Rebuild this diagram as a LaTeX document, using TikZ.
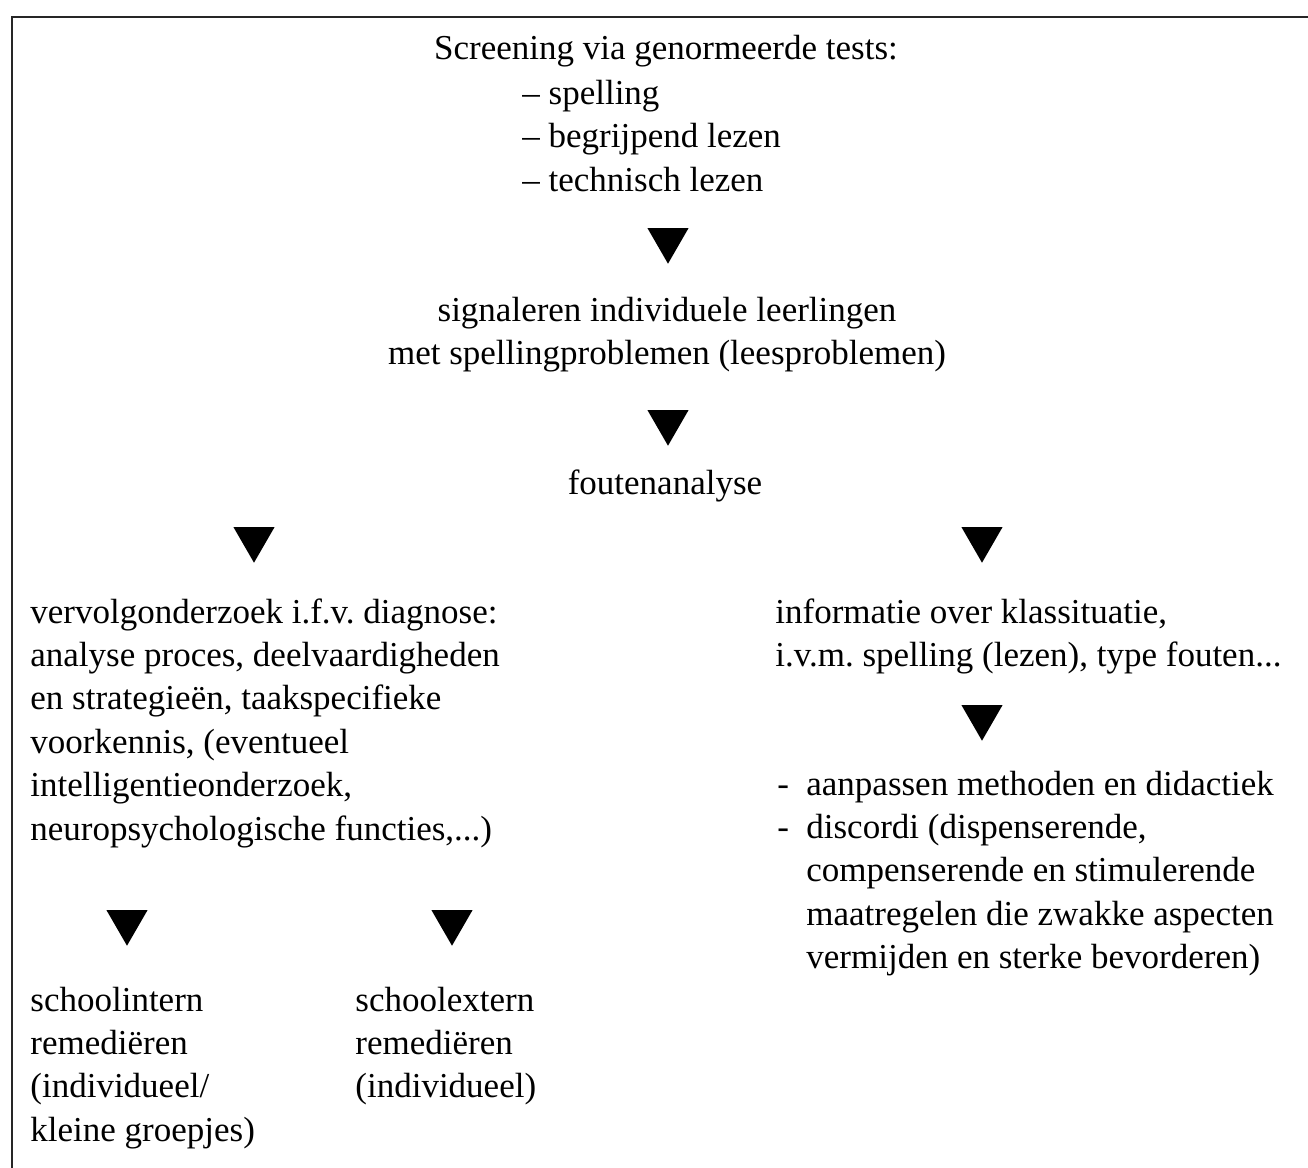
\documentclass[tikz,border=0pt]{standalone}
\usepackage{fontspec}
\setmainfont{Liberation Serif}
\usetikzlibrary{shapes.geometric}
\frenchspacing
\begin{document}
\begin{tikzpicture}[x=0.5pt,y=-0.5pt,
  txt/.style={inner sep=0pt, font=\fontsize{17.5pt}{21.7pt}\selectfont\frenchspacing, align=left, anchor=base west},
  ctxt/.style={inner sep=0pt, font=\fontsize{17.5pt}{21.7pt}\selectfont\frenchspacing, align=center, anchor=base},
  arr/.style={regular polygon, regular polygon sides=3, shape border rotate=180,
    fill=black, draw=none, inner sep=0pt, outer sep=0pt, minimum size=23.7pt},
  frameline/.style={line width=1.3pt, black!85}]
\useasboundingbox (0,0) rectangle (1308,1168);
% frame (top and left only)
\coordinate (fr) at (1308,17);
\coordinate (ftl) at (12,17);
\coordinate (fbl) at (12,1168);
\draw[frameline] (fr) -- (ftl) -- (fbl);

% texts (multi-line nodes: base anchor = baseline of last line)
\node[ctxt] (screen) at (666,59) {Screening via genormeerde tests:};
\node[txt] (tests) at (522,191) {– spelling\\– begrijpend lezen\\– technisch lezen};
\node[ctxt] (signal) at (667,364.4) {signaleren individuele leerlingen\\met spellingproblemen (leesproblemen)};
\node[ctxt] (fouten) at (665,494) {foutenanalyse};
\node[txt] (vervolg) at (30,840) {vervolgonderzoek i.f.v. diagnose:\\analyse proces, deelvaardigheden\\en strategieën, taakspecifieke\\voorkennis, (eventueel\\intelligentieonderzoek,\\neuropsychologische functies,...)};
\node[txt] (info) at (775,666.4) {informatie over klassituatie,\\i.v.m. spelling (lezen), type fouten...};
\node[txt] (aanpas) at (777,968.6) {\makebox[14.5pt][l]{-}aanpassen methoden en didactiek\\\makebox[14.5pt][l]{-}discordi (dispenserende,\\\hspace*{14.5pt}compenserende en stimulerende\\\hspace*{14.5pt}maatregelen die zwakke aspecten\\\hspace*{14.5pt}vermijden en sterke bevorderen)};
\node[txt] (intern) at (30,1141.2) {schoolintern\\remediëren\\(individueel/\\kleine groepjes)};
\node[txt] (extern) at (355,1097.8) {schoolextern\\remediëren\\(individueel)};

% arrowheads (flow markers)
\node[arr] (a1) at (668,240) {};
\node[arr] (a2) at (668,422) {};
\node[arr] (a3) at (254,539) {};
\node[arr] (a4) at (982,539) {};
\node[arr] (a5) at (982,717) {};
\node[arr] (a6) at (127,922) {};
\node[arr] (a7) at (452,922) {};
\end{tikzpicture}
\end{document}
